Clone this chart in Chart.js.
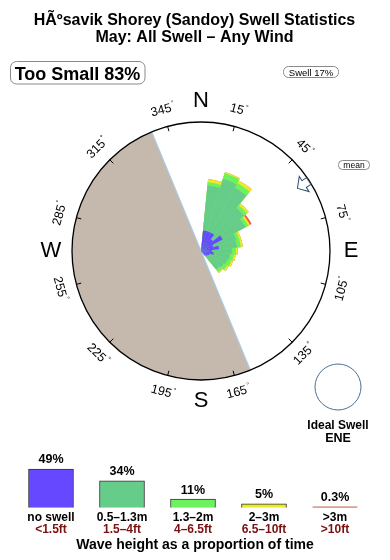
<!DOCTYPE html>
<html lang="en">
<head>
<meta charset="UTF-8">
<title>Swell Statistics</title>
<script src="https://cdn.jsdelivr.net/npm/chart.js"></script>
<style>
  body { margin: 0; background: #fff; }
  .wrap { position: relative; width: 390px; height: 560px; overflow: hidden; }
  #rose { position: absolute; left: 0; top: 0; }
  #heights { position: absolute; left: 0; top: 440px; }
</style>
</head>
<body>
<div class="wrap">
  <canvas id="rose" width="390" height="560"></canvas>
  <canvas id="heights" width="390" height="120"></canvas>
</div>
<script>
// direction bins (deg, 32 x 11.25)
const bearings = [0, 11.25, 22.5, 33.75, 45, 56.25, 67.5, 78.75, 90, 101.25, 112.5, 123.75,
  135, 146.25, 157.5, 168.75, 180, 191.25, 202.5, 213.75, 225, 236.25, 247.5, 258.75,
  270, 281.25, 292.5, 303.75, 315, 326.25, 337.5, 348.75];

// share of time per bin, by wave height class
const noSwell = [0, 1.6, 1.6, 1.6, 1.2, 1.9, 1.0, 1.4, 0.85, 1.0, 0.7, 0.6, 0.45, 0, 0, 0,
  0, 0, 0, 0, 0, 0, 0, 0, 0, 0, 0, 0, 0, 0, 0, 0];
const swellSmall = [0, 3.5, 4.25, 3.95, 3.1, 2.0, 1.85, 1.4, 1.55, 1.25, 1.45, 1.4, 1.4, 0, 0, 0,
  0, 0, 0, 0, 0, 0, 0, 0, 0, 0, 0, 0, 0, 0, 0, 0];
const swellMid = [0, 0.25, 0.45, 0.4, 0.3, 0.25, 0.25, 0.3, 0.3, 0.3, 0.3, 0.3, 0.25, 0, 0, 0,
  0, 0, 0, 0, 0, 0, 0, 0, 0, 0, 0, 0, 0, 0, 0, 0];
const swellBig = [0, 0.25, 0.1, 0.25, 0.2, 0.15, 0.15, 0.15, 0.15, 0.15, 0.15, 0.15, 0.1, 0, 0, 0,
  0, 0, 0, 0, 0, 0, 0, 0, 0, 0, 0, 0, 0, 0, 0, 0];
const swellHuge = [0, 0, 0, 0, 0, 0.15, 0, 0, 0, 0, 0, 0, 0, 0, 0, 0,
  0, 0, 0, 0, 0, 0, 0, 0, 0, 0, 0, 0, 0, 0, 0, 0];

// legend
const heightClasses = ['no swell', '0.5\u20131.3m', '1.3\u20132m', '2\u20133m', '>3m'];
const heightFeet = ['<1.5ft', '1.5\u20134ft', '4\u20136.5ft', '6.5\u201310ft', '>10ft'];
const heightShare = [49, 34, 11, 5, 0.3];
const colors = ['#6548ff', '#66cc8a', '#6cf25c', '#eaea2c', '#f0603c'];

const ringLabels = [15, 45, 75, 105, 135, 165, 195, 225, 255, 285, 315, 345];
const landFrom = 157.5, landTo = 337.5;
const meanBearing = 57;
const FONT = '"Liberation Sans", Arial, sans-serif';

const rad = d => d * Math.PI / 180;
function polar(cx, cy, r, b) {
  return [cx + r * Math.sin(rad(b)), cy - r * Math.cos(rad(b))];
}
function box(ctx, x, y, w, h, r) {
  ctx.beginPath();
  ctx.roundRect(x, y, w, h, r);
  ctx.strokeStyle = '#8a8a8a';
  ctx.lineWidth = 1;
  ctx.stroke();
}

// stacked layers -> cumulative radii
const layers = [noSwell, swellSmall, swellMid, swellBig, swellHuge];
const stacked = [];
let run = bearings.map(() => 0);
layers.forEach(l => {
  run = run.map((v, i) => v + l[i]);
  stacked.push(run.slice());
});

const roseDecor = {
  id: 'roseDecor',
  beforeDatasetsDraw(chart) {
    const ctx = chart.ctx, s = chart.scales.r;
    const cx = s.xCenter, cy = s.yCenter, R = s.drawingArea;
    // land
    ctx.save();
    ctx.beginPath();
    ctx.moveTo(cx, cy);
    ctx.arc(cx, cy, R, rad(landFrom - 90), rad(landTo - 90), false);
    ctx.closePath();
    ctx.fillStyle = '#c5b9ad';
    ctx.fill();
    const a = polar(cx, cy, R, landFrom), b = polar(cx, cy, R, landTo);
    ctx.beginPath();
    ctx.moveTo(a[0], a[1]);
    ctx.lineTo(b[0], b[1]);
    ctx.strokeStyle = '#a9cbe6';
    ctx.lineWidth = 1.2;
    ctx.stroke();
    ctx.restore();
  },
  afterDatasetsDraw(chart) {
    const ctx = chart.ctx, s = chart.scales.r;
    const cx = s.xCenter, cy = s.yCenter, R = s.drawingArea;
    ctx.save();
    ctx.beginPath();
    ctx.arc(cx, cy, R, 0, Math.PI * 2);
    ctx.strokeStyle = '#000';
    ctx.lineWidth = 1.3;
    ctx.stroke();

    ctx.fillStyle = '#000';
    ctx.lineWidth = 1;
    ringLabels.forEach(bd => {
      const p1 = polar(cx, cy, R - 5, bd), p2 = polar(cx, cy, R, bd);
      ctx.beginPath();
      ctx.moveTo(p1[0], p1[1]);
      ctx.lineTo(p2[0], p2[1]);
      ctx.stroke();
      const [x, y] = polar(cx, cy, R + 17, bd);
      const rot = bd - 180 * Math.round(bd / 180);
      ctx.save();
      ctx.translate(x, y);
      ctx.rotate(rad(rot));
      ctx.textBaseline = 'middle';
      ctx.textAlign = 'center';
      ctx.font = '12.5px ' + FONT;
      const t = String(bd);
      const w = ctx.measureText(t).width;
      ctx.fillText(t, -2, 0);
      ctx.font = '7px ' + FONT;
      ctx.textAlign = 'left';
      ctx.fillText('\u00b0', w / 2 - 1, -4);
      ctx.restore();
    });

    ctx.font = '22px ' + FONT;
    ctx.textAlign = 'center';
    ctx.textBaseline = 'middle';
    [['N', 0], ['E', 90], ['S', 180], ['W', 270]].forEach(([t, bd]) => {
      const [x, y] = polar(cx, cy, R + 21, bd);
      ctx.fillText(t, x, y);
    });

    // mean direction arrow
    ctx.save();
    ctx.translate(cx, cy);
    ctx.rotate(rad(meanBearing));
    ctx.beginPath();
    ctx.moveTo(0, -115);
    ctx.lineTo(9, -123);
    ctx.lineTo(4, -123);
    ctx.lineTo(4, -R + 0.5);
    ctx.lineTo(-4, -R + 0.5);
    ctx.lineTo(-4, -123);
    ctx.lineTo(-9, -123);
    ctx.closePath();
    ctx.fillStyle = '#fff';
    ctx.fill();
    ctx.strokeStyle = '#2e4a6a';
    ctx.lineWidth = 1;
    ctx.stroke();
    ctx.restore();
    box(ctx, 338.5, 160.5, 31, 9, 4);
    ctx.fillStyle = '#000';
    ctx.font = '8.5px ' + FONT;
    ctx.fillText('mean', 354, 165.5);

    // ideal swell
    ctx.beginPath();
    ctx.arc(338, 387, 23, 0, Math.PI * 2);
    ctx.strokeStyle = '#4a6f96';
    ctx.stroke();
    ctx.textBaseline = 'alphabetic';
    ctx.font = 'bold 12px ' + FONT;
    ctx.fillText('Ideal Swell', 338, 429);
    ctx.font = 'bold 12.5px ' + FONT;
    ctx.fillText('ENE', 338, 442);

    // headings
    ctx.font = 'bold 16px ' + FONT;
    ctx.fillText('H\u00c3\u00basavik Shorey (Sandoy) Swell Statistics', 194.5, 25);
    ctx.fillText('May: All Swell \u2013 Any Wind', 194.5, 42);
    box(ctx, 10.5, 61.5, 134.5, 22.5, 6);
    ctx.font = 'bold 18px ' + FONT;
    ctx.fillText('Too Small 83%', 77.5, 80);
    box(ctx, 283.5, 66.5, 55, 11, 5);
    ctx.font = '9.5px ' + FONT;
    ctx.fillText('Swell 17%', 311, 75.5);
    ctx.restore();
  }
};

new Chart(document.getElementById('rose'), {
  type: 'polarArea',
  data: {
    labels: bearings,
    datasets: stacked.map((d, i) => ({
      data: d,
      backgroundColor: colors[i],
      borderWidth: 0,
      angle: 11.25
    }))
  },
  options: {
    responsive: false,
    animation: false,
    events: [],
    layout: { padding: { left: 72, right: 60, top: 122, bottom: 180 } },
    scales: {
      r: { display: false, min: 0, max: 10, startAngle: -5.625 }
    },
    plugins: { legend: { display: false }, tooltip: { enabled: false } }
  },
  plugins: [roseDecor]
});

const heightLabels = {
  id: 'heightLabels',
  afterDatasetsDraw(chart) {
    const ctx = chart.ctx;
    const bars = chart.getDatasetMeta(0).data;
    ctx.save();
    ctx.textAlign = 'center';
    bars.forEach((bar, i) => {
      ctx.fillStyle = '#000';
      ctx.font = 'bold 12.5px ' + FONT;
      ctx.fillText(heightShare[i] + '%', bar.x, bar.y - 5.5);
      ctx.font = 'bold 12px ' + FONT;
      ctx.fillText(heightClasses[i], bar.x, 81);
      ctx.fillStyle = '#7a1010';
      ctx.fillText(heightFeet[i], bar.x, 93);
    });
    ctx.fillStyle = '#000';
    ctx.font = 'bold 14px ' + FONT;
    ctx.fillText('Wave height as a proportion of time', 195, 109);
    ctx.restore();
  }
};

new Chart(document.getElementById('heights'), {
  type: 'bar',
  data: {
    labels: heightClasses,
    datasets: [{
      data: heightShare,
      backgroundColor: colors,
      borderColor: ['#333', '#333', '#333', '#333', '#c8a49c'],
      borderWidth: 1,
      barThickness: 45,
      minBarLength: 1
    }]
  },
  options: {
    responsive: false,
    animation: false,
    events: [],
    layout: { padding: { left: 15.5, right: 19.5, top: 20.3, bottom: 52.3 } },
    scales: {
      x: { display: false },
      y: { display: false, min: 0, max: 60 }
    },
    plugins: { legend: { display: false }, tooltip: { enabled: false } }
  },
  plugins: [heightLabels]
});
</script>
</body>
</html>
